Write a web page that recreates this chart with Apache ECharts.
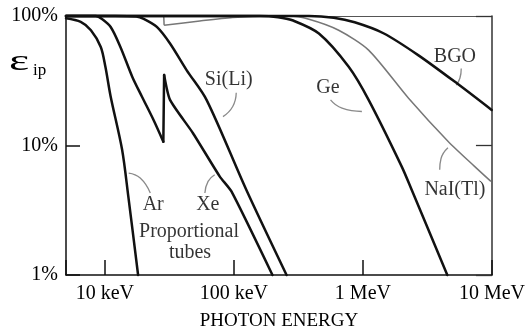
<!DOCTYPE html>
<html><head><meta charset="utf-8">
<script src="https://cdn.jsdelivr.net/npm/echarts@6/dist/echarts.min.js"></script>
<style>html,body{margin:0;padding:0;background:#fff}#c{width:528px;height:336px}</style>
</head><body><div id="c"></div>
<script>
const FONT = 'Liberation Serif';
// axis ranges (keV, %)
const xRange = [5, 10000];
const yRange = [1, 100];
// tick labels
const xTickValues = [10, 100, 1000, 10000];
const xTickLabels = ['10 keV', '100 keV', '1 MeV', '10 MeV'];
const yTickValues = [1, 10, 100];
const yTickLabels = ['1%', '10%', '100%'];
const xAxisTitle = 'PHOTON ENERGY';

// curves: energy (keV) and intrinsic peak efficiency (%)
const arKeV = [5, 6.5, 7.8, 9.3, 10.1, 11.1, 13.6, 15.2, 18.1];
const arPct = [96, 90, 77.6, 57.7, 40.5, 23.8, 9.3, 4.05, 1.0];

const xeLowKeV = [5, 8.5, 9.5, 11.1, 13.2, 16.3, 19.4, 23.8, 28.4];
const xeLowPct = [100, 100, 95, 82.3, 57.7, 34.0, 23.8, 15.8, 10.7];
const xeHighKeV = [28.8, 32.0, 48.1, 77.6, 96, 199];
const xeHighPct = [35.0, 22.5, 12.5, 5.78, 4.4, 1.0];

const siKeV = [5, 12, 17.5, 20, 25.3, 32.0, 43.0, 61.4, 124.5, 256];
const siPct = [100, 100, 99, 95, 82.3, 61.3, 38.2, 22.5, 4.57, 1.0];

const geKeV = [5, 158, 220, 284, 456, 776, 1107, 1995, 2382, 4508];
const gePct = [100, 100, 98, 92.7, 73.2, 40.5, 22.5, 6.9, 4.57, 1.0];

const bgoKeV = [5, 382, 594, 863, 1442, 2679, 5445, 9954];
const bgoPct = [100, 100, 96.9, 89.4, 73.6, 49.9, 29.8, 18.8];

const naiLowKeV = [5, 28.6];
const naiLowPct = [100, 100];
const naiHighKeV = [28.8, 54.5, 97.7, 188, 268, 382, 649, 1107, 2249, 4560, 7328, 9817];
const naiHighPct = [84.8, 91.5, 97.2, 100, 100, 94.3, 77.6, 54.5, 23.3, 10.8, 6.9, 5.28];

// curve labels
const labelNames = ['Si(Li)', 'Ge', 'BGO', 'NaI(Tl)', 'Ar', 'Xe', 'Proportional', 'tubes'];
const labelKeV = [91.2, 536, 5164, 5164, 23.7, 62.8, 44.9, 45.7];
const labelPct = [32.0, 27.8, 48.1, 4.56, 3.5, 3.5, 2.17, 1.49];

// leader lines (label -> curve)
const leaderSiKeV = [104.3, 98, 82.3];   const leaderSiPct = [25.5, 20, 16.7];
const leaderGeKeV = [561, 689, 982];     const leaderGePct = [22.5, 19.4, 18.3];
const leaderBgoKeV = [5781, 5650, 5284]; const leaderBgoPct = [39.4, 33.2, 29.3];
const leaderNaiKeV = [4560, 4027, 3936]; const leaderNaiPct = [9.6, 7.9, 6.5];
const leaderArKeV = [15.3, 18.8, 22.5];  const leaderArPct = [6.13, 5.61, 4.3];
const leaderXeKeV = [71.0, 63.1, 59.6];  const leaderXePct = [5.95, 5.28, 4.3];

const zip = (a, b) => a.map((v, i) => [v, b[i]]);
const near = (v, arr) => arr.findIndex(k => Math.abs(Math.log10(v) - Math.log10(k)) < 1e-6);

function curve(keV, pct, opts) {
  return Object.assign({
    type: 'line', data: zip(keV, pct), symbol: 'none', showSymbol: false,
    smooth: 0.3, clip: false, silent: true, animation: false, z: 3,
    lineStyle: { color: '#111', width: 2.5, join: 'round', cap: 'round' }
  }, opts || {});
}
function leader(keV, pct) {
  return curve(keV, pct, { smooth: 0.5, z: 2, lineStyle: { color: '#8a8a8a', width: 1.3 } });
}

const chart = echarts.init(document.getElementById('c'), null, { renderer: 'canvas' });
const textBase = { fontFamily: FONT, fontSize: 20, color: '#000' };

chart.setOption({
  animation: false,
  backgroundColor: '#fff',
  grid: { left: 66, right: 34, top: 16, bottom: 60 },
  xAxis: [
    {
      type: 'log', logBase: 10, min: xRange[0], max: xRange[1], position: 'bottom',
      axisLine: { show: true, lineStyle: { color: '#111', width: 1.5 } },
      axisTick: { show: true, inside: true, length: 15, lineStyle: { color: '#111', width: 1.5 } },
      axisLabel: {
        ...textBase, margin: 9, showMinLabel: true, showMaxLabel: true,
        formatter: v => { const i = near(v, xTickValues); return i >= 0 ? xTickLabels[i] : ''; }
      },
      splitLine: { show: false }, minorTick: { show: false },
      name: xAxisTitle, nameLocation: 'middle', nameGap: 37,
      nameTextStyle: { ...textBase, fontSize: 19 }
    },
    {
      type: 'log', logBase: 10, min: xRange[0], max: xRange[1], position: 'top',
      axisLine: { show: true, lineStyle: { color: '#555', width: 1.2 } },
      axisTick: { show: false }, axisLabel: { show: false }, splitLine: { show: false }
    }
  ],
  yAxis: [
    {
      type: 'log', logBase: 10, min: yRange[0], max: yRange[1], position: 'left',
      axisLine: { show: true, lineStyle: { color: '#111', width: 1.5 } },
      axisTick: { show: true, inside: true, length: 14, lineStyle: { color: '#111', width: 1.5 } },
      axisLabel: {
        ...textBase, margin: 8,
        formatter: v => { const i = near(v, yTickValues); return i >= 0 ? yTickLabels[i] : ''; }
      },
      splitLine: { show: false }
    },
    {
      type: 'log', logBase: 10, min: yRange[0], max: yRange[1], position: 'right',
      axisLine: { show: true, lineStyle: { color: '#333', width: 1.5 } },
      axisTick: { show: true, inside: true, length: 16, lineStyle: { color: '#333', width: 1.3 } },
      axisLabel: { show: false }, splitLine: { show: false }
    }
  ],
  graphic: [
    { type: 'text', left: 9, top: 47, scaleX: 1.6, originX: 0,
      style: { text: 'ε', font: '30px "Liberation Serif"', fill: '#000' } },
    { type: 'text', left: 33, top: 62,
      style: { text: 'ip', font: '17px "Liberation Serif"', fill: '#000' } }
  ],
  series: [
    curve(naiLowKeV, naiLowPct, { smooth: false, z: 2, lineStyle: { color: '#777', width: 1.5 } }),
    curve([naiLowKeV[naiLowKeV.length - 1], naiHighKeV[0]], [naiLowPct[naiLowPct.length - 1], naiHighPct[0]],
          { smooth: false, z: 2, lineStyle: { color: '#777', width: 1.5 } }),
    curve(naiHighKeV, naiHighPct, { smooth: 0.25, z: 2, lineStyle: { color: '#777', width: 1.5 } }),
    curve(arKeV, arPct),
    curve(xeLowKeV, xeLowPct),
    curve([xeLowKeV[xeLowKeV.length - 1], xeHighKeV[0]], [xeLowPct[xeLowPct.length - 1], xeHighPct[0]], { smooth: false }),
    curve(xeHighKeV, xeHighPct, { smooth: 0.2 }),
    curve(siKeV, siPct),
    curve(geKeV, gePct),
    curve(bgoKeV, bgoPct),
    leader(leaderSiKeV, leaderSiPct),
    leader(leaderGeKeV, leaderGePct),
    leader(leaderBgoKeV, leaderBgoPct),
    leader(leaderNaiKeV, leaderNaiPct),
    leader(leaderArKeV, leaderArPct),
    leader(leaderXeKeV, leaderXePct),
    {
      type: 'scatter', silent: true, animation: false, symbolSize: 1, z: 5,
      itemStyle: { color: 'rgba(0,0,0,0)' },
      data: labelNames.map((n, i) => ({ name: n, value: [labelKeV[i], labelPct[i]] })),
      label: { show: true, position: 'inside', formatter: p => p.name, ...textBase }
    }
  ]
});
</script></body></html>
